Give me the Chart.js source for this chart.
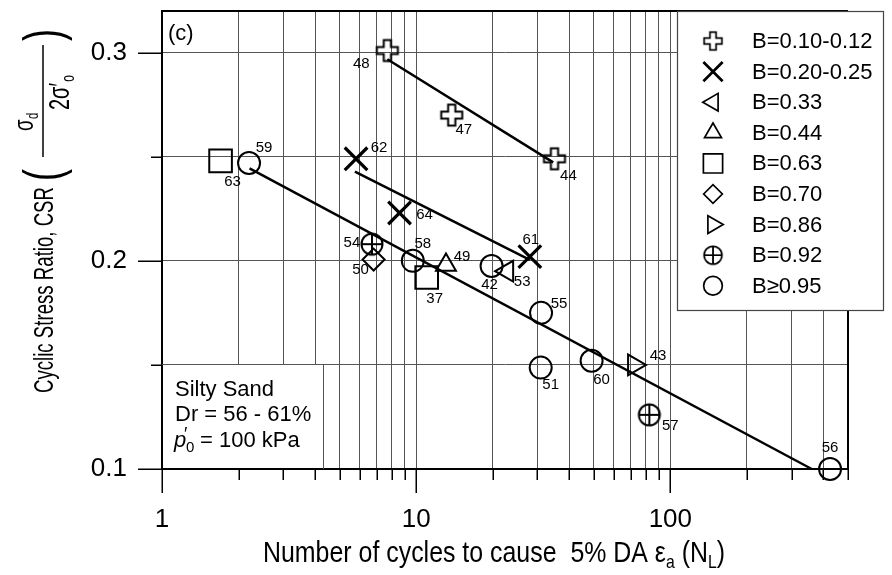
<!DOCTYPE html>
<html>
<head>
<meta charset="utf-8">
<script src="https://cdn.jsdelivr.net/npm/chart.js@4.4.1/dist/chart.umd.min.js"></script>
<style>
  body { margin: 0; background: #fff; }
  #wrap { width: 892px; height: 575px; }
</style>
</head>
<body>
<div id="wrap"><canvas id="csrChart" width="892" height="575"></canvas></div>
<script>
// Cyclic stress ratio vs. cycles to 5% DA strain, grouped by B-value
const legendLabels = ["B=0.10-0.12", "B=0.20-0.25", "B=0.33", "B=0.44", "B=0.63", "B=0.70", "B=0.86", "B=0.92", "B\u22650.95"];

const plusN = [7.7, 13.8, 35.0];
const plusCSR = [0.301, 0.270, 0.249];
const plusIds = ["48", "47", "44"];

const crossN = [5.8, 8.6, 28.0];
const crossCSR = [0.249, 0.223, 0.202];
const crossIds = ["62", "64", "61"];

const leftTriN = [22.8];
const leftTriCSR = [0.195];
const leftTriIds = ["53"];

const upTriN = [13.1];
const upTriCSR = [0.198];
const upTriIds = ["49"];

const squareN = [1.70, 11.0];
const squareCSR = [0.248, 0.192];
const squareIds = ["63", "37"];

const diamondN = [6.8];
const diamondCSR = [0.2006];
const diamondIds = ["50"];

const rightTriN = [72.0];
const rightTriCSR = [0.150];
const rightTriIds = ["43"];

const circlePlusN = [6.7, 82.7];
const circlePlusCSR = [0.208, 0.126];
const circlePlusIds = ["54", "57"];

const circleN = [2.2, 9.7, 19.8, 31.0, 30.9, 49.0, 425];
const circleCSR = [0.247, 0.200, 0.1975, 0.175, 0.1487, 0.152, 0.100];
const circleIds = ["59", "58", "42", "55", "51", "60", "56"];

// trend lines (end points)
const fit1N = [7.7, 34.6];
const fit1CSR = [0.2968, 0.2473];
const fit2N = [5.74, 28.0];
const fit2CSR = [0.2428, 0.2005];
const fit3N = [2.21, 360];
const fit3CSR = [0.2444, 0.100];

const xTickValues = [1, 2, 3, 4, 5, 6, 7, 8, 9, 10, 20, 30, 40, 50, 60, 70, 80, 90, 100, 200, 300, 400, 500];
const xTickLabels = [1, 10, 100];
const yTickValues = [0.1, 0.15, 0.2, 0.25, 0.3];
const yTickLabels = [0.1, 0.2, 0.3];

const FONT = 'Arial, "Liberation Sans", sans-serif';

// label offsets from the marker centre (px)
const idOffsets = {
  "48": [-26, 13], "47": [12, 15], "44": [14, 17],
  "62": [23, -11], "64": [25, 2], "61": [1, -17],
  "53": [15, 11], "49": [16, -8],
  "63": [12, 21], "37": [8, 21],
  "50": [-13, 10], "43": [24, -9],
  "54": [-20, -1], "57": [21, 11],
  "59": [15, -15], "58": [10, -17], "42": [-2, 19], "55": [18, -9],
  "51": [10, 17], "60": [10, 19], "56": [0, -21]
};

function makePlus() {
  const c = document.createElement("canvas");
  c.width = 26; c.height = 26;
  const g = c.getContext("2d");
  const a = 3.6, L = 10.5;
  const p = [[-a,-L],[a,-L],[a,-a],[L,-a],[L,a],[a,a],[a,L],[-a,L],[-a,a],[-L,a],[-L,-a],[-a,-a]];
  g.translate(13, 13);
  g.beginPath();
  p.forEach((q, i) => i ? g.lineTo(q[0], q[1]) : g.moveTo(q[0], q[1]));
  g.closePath();
  g.lineWidth = 2; g.strokeStyle = "#000"; g.stroke();
  return c;
}

function makeCirclePlus() {
  const c = document.createElement("canvas");
  c.width = 26; c.height = 26;
  const g = c.getContext("2d");
  const r = 10.5;
  g.translate(13, 13);
  g.lineWidth = 2; g.strokeStyle = "#000";
  g.beginPath(); g.arc(0, 0, r, 0, Math.PI * 2); g.stroke();
  g.beginPath(); g.moveTo(-r, 0); g.lineTo(r, 0); g.moveTo(0, -r); g.lineTo(0, r); g.stroke();
  return c;
}

function pts(xs, ys) {
  return xs.map((x, i) => ({ x: x, y: ys[i] }));
}

function markerSet(label, xs, ys, ids, style, radius, rotation, width) {
  return {
    label: label, data: pts(xs, ys), ids: ids,
    pointStyle: style, pointRadius: radius, pointHoverRadius: radius,
    pointRotation: rotation, pointBorderWidth: width,
    pointBorderColor: "#000", pointBackgroundColor: "rgba(0,0,0,0)",
    showLine: false, clip: false
  };
}

function fitSet(xs, ys) {
  return {
    label: "", data: pts(xs, ys), showLine: true, borderColor: "#000", borderWidth: 2.5,
    pointRadius: 0, fill: false, clip: false
  };
}

const markerSets = [
  markerSet(legendLabels[0], plusN, plusCSR, plusIds, makePlus(), 11, 0, 2),
  markerSet(legendLabels[1], crossN, crossCSR, crossIds, "crossRot", 16, 0, 3.2),
  markerSet(legendLabels[2], leftTriN, leftTriCSR, leftTriIds, "triangle", 12, -90, 2),
  markerSet(legendLabels[3], upTriN, upTriCSR, upTriIds, "triangle", 11.5, 0, 2),
  markerSet(legendLabels[4], squareN, squareCSR, squareIds, "rect", 16, 0, 2),
  markerSet(legendLabels[5], diamondN, diamondCSR, diamondIds, "rectRot", 11, 0, 2),
  markerSet(legendLabels[6], rightTriN, rightTriCSR, rightTriIds, "triangle", 12, 90, 2),
  markerSet(legendLabels[7], circlePlusN, circlePlusCSR, circlePlusIds, makeCirclePlus(), 11, 0, 2),
  markerSet(legendLabels[8], circleN, circleCSR, circleIds, "circle", 11, 0, 2)
];

const fitSets = [fitSet(fit1N, fit1CSR), fitSet(fit2N, fit2CSR), fitSet(fit3N, fit3CSR)];

// draws text squeezed horizontally, returns advance
function squeezed(ctx, text, x, y, size, sx, italic) {
  ctx.save();
  ctx.font = (italic ? "italic " : "") + size + "px " + FONT;
  const w = ctx.measureText(text).width;
  ctx.translate(x, y);
  ctx.scale(sx, 1);
  ctx.fillText(text, 0, 0);
  ctx.restore();
  return w * sx;
}

const decor = {
  id: "decor",
  afterDatasetsDraw(chart) {
    const ctx = chart.ctx;
    ctx.save();
    ctx.fillStyle = "#000";
    ctx.font = "15px " + FONT;
    ctx.textAlign = "center";
    ctx.textBaseline = "middle";
    chart.data.datasets.forEach((ds, di) => {
      if (!ds.ids) return;
      chart.getDatasetMeta(di).data.forEach((el, i) => {
        const off = idOffsets[ds.ids[i]] || [0, 0];
        ctx.fillText(ds.ids[i], el.x + off[0], el.y + off[1]);
      });
    });
    ctx.restore();
  },
  afterDraw(chart) {
    const ctx = chart.ctx;
    const a = chart.chartArea;
    const xs = chart.scales.x, ys = chart.scales.y;
    ctx.save();
    ctx.strokeStyle = "#000";

    // top and right frame
    ctx.lineWidth = 2;
    ctx.beginPath();
    ctx.moveTo(a.left, a.top); ctx.lineTo(a.right, a.top);
    ctx.moveTo(a.right, a.top); ctx.lineTo(a.right, a.bottom + 1);
    ctx.stroke();

    // tick marks, longer at labelled values
    ctx.lineWidth = 1.5;
    ctx.beginPath();
    xs.ticks.forEach(t => {
      const px = Math.round(xs.getPixelForValue(t.value)) + 0.25;
      const len = xTickLabels.includes(t.value) ? 24 : 11;
      ctx.moveTo(px, a.bottom); ctx.lineTo(px, a.bottom + len);
    });
    ys.ticks.forEach(t => {
      const py = Math.round(ys.getPixelForValue(t.value)) + 0.25;
      const len = yTickLabels.includes(t.value) ? 24 : 11;
      ctx.moveTo(a.left, py); ctx.lineTo(a.left - len, py);
    });
    ctx.stroke();

    // legend box
    const lx = 677, ly = 11, lw = 206, lh = 299;
    ctx.fillStyle = "#fff";
    ctx.fillRect(lx, ly, lw, lh);
    ctx.strokeStyle = "#444";
    ctx.lineWidth = 1.2;
    ctx.strokeRect(lx + 0.5, ly + 0.5, lw, lh);
    markerSets.forEach((ds, i) => {
      const cy = 41 + i * 30.6;
      ctx.save();
      ctx.translate(713, cy);
      ctx.scale(0.85, 0.85);
      ctx.strokeStyle = "#000";
      ctx.fillStyle = "rgba(0,0,0,0)";
      ctx.lineWidth = ds.pointBorderWidth;
      Chart.helpers.drawPoint(ctx, {
        pointStyle: ds.pointStyle, radius: ds.pointRadius,
        rotation: ds.pointRotation, borderWidth: ds.pointBorderWidth
      }, 0, 0);
      ctx.restore();
      ctx.fillStyle = "#000";
      ctx.font = "22px " + FONT;
      ctx.textAlign = "left";
      ctx.textBaseline = "middle";
      ctx.fillText(ds.label, 752, cy + 1);
    });

    // soil description box
    ctx.fillStyle = "#fff";
    ctx.fillRect(a.left + 1, 364, 160, a.bottom - 1 - 364);
    ctx.strokeStyle = "#555";
    ctx.lineWidth = 1;
    ctx.beginPath();
    ctx.moveTo(a.left, 364.5); ctx.lineTo(323.5, 364.5); ctx.lineTo(323.5, a.bottom);
    ctx.stroke();
    ctx.fillStyle = "#000";
    ctx.textAlign = "left";
    ctx.textBaseline = "alphabetic";
    ctx.font = "22px " + FONT;
    ctx.fillText("Silty Sand", 175, 396);
    ctx.fillText("Dr = 56 - 61%", 175, 421);
    ctx.font = "italic 22px " + FONT;
    ctx.fillText("p", 174, 447);
    ctx.font = "18px " + FONT;
    ctx.fillText("\u2032", 184, 440);
    ctx.font = "15px " + FONT;
    ctx.fillText("0", 186, 452);
    ctx.font = "22px " + FONT;
    ctx.fillText("= 100 kPa", 200, 447);

    // panel tag
    ctx.fillText("(c)", 168, 40);

    // x title
    const xParts = [
      ["Number of cycles to cause  5% DA ", 30, 0], ["\u03b5", 30, 0], ["a", 19, 6],
      [" (N", 30, 0], ["L", 19, 6], [")", 30, 0]
    ];
    let total = 0;
    xParts.forEach(p => { ctx.font = p[1] + "px " + FONT; total += ctx.measureText(p[0]).width; });
    const sxX = 462 / total;
    let cx = 263;
    xParts.forEach(p => { cx += squeezed(ctx, p[0], cx, 562 + p[2], p[1], sxX); });

    // y title, rotated; fraction sigma_d / 2 sigma'_o after the text
    ctx.translate(53, 393);
    ctx.rotate(-Math.PI / 2);
    ctx.font = "28px " + FONT;
    const main = "Cyclic Stress Ratio, CSR";
    const sxY = 206 / ctx.measureText(main).width;
    squeezed(ctx, main, 0, 0, 28, sxY);
    squeezed(ctx, "(", 212, 8, 54, sxY);
    squeezed(ctx, "\u03c3", 262, -20, 28, sxY);
    squeezed(ctx, "d", 274, -15, 17, sxY);
    ctx.lineWidth = 1.5;
    ctx.strokeStyle = "#000";
    ctx.beginPath(); ctx.moveTo(236, -10); ctx.lineTo(348, -10); ctx.stroke();
    let u = 283;
    u += squeezed(ctx, "2\u03c3\u2032", u, 16, 30, sxY);
    squeezed(ctx, "o", u + 1, 21, 18, sxY);
    squeezed(ctx, ")", 352, 8, 54, sxY);
    ctx.restore();
  }
};

new Chart(document.getElementById("csrChart"), {
  type: "scatter",
  data: { datasets: [...fitSets, ...markerSets] },
  options: {
    responsive: false,
    animation: false,
    layout: { autoPadding: false, padding: { left: 0, top: 11, right: 44, bottom: 0 } },
    plugins: { legend: { display: false }, tooltip: { enabled: false } },
    scales: {
      x: {
        type: "logarithmic", min: 1, max: 500,
        afterBuildTicks: s => { s.ticks = xTickValues.map(v => ({ value: v })); },
        afterFit: s => { s.height = 106; s.paddingLeft = 0; s.paddingRight = 0; },
        ticks: {
          autoSkip: false, maxRotation: 0, padding: 35, color: "#000",
          font: { family: FONT, size: 26 },
          callback: v => xTickLabels.includes(v) ? String(v) : ""
        },
        grid: { color: "#555", lineWidth: 1, drawTicks: false },
        border: { color: "#000", width: 2 }
      },
      y: {
        type: "linear", min: 0.1, max: 0.32,
        afterBuildTicks: s => { s.ticks = yTickValues.map(v => ({ value: v })); },
        afterFit: s => { s.width = 162; s.paddingTop = 0; s.paddingBottom = 0; },
        ticks: {
          padding: 35, color: "#000",
          font: { family: FONT, size: 26 },
          callback: v => yTickLabels.includes(v) ? v.toFixed(1) : ""
        },
        grid: { color: "#555", lineWidth: 1, drawTicks: false },
        border: { color: "#000", width: 2 }
      }
    }
  },
  plugins: [decor]
});
</script>
</body>
</html>
